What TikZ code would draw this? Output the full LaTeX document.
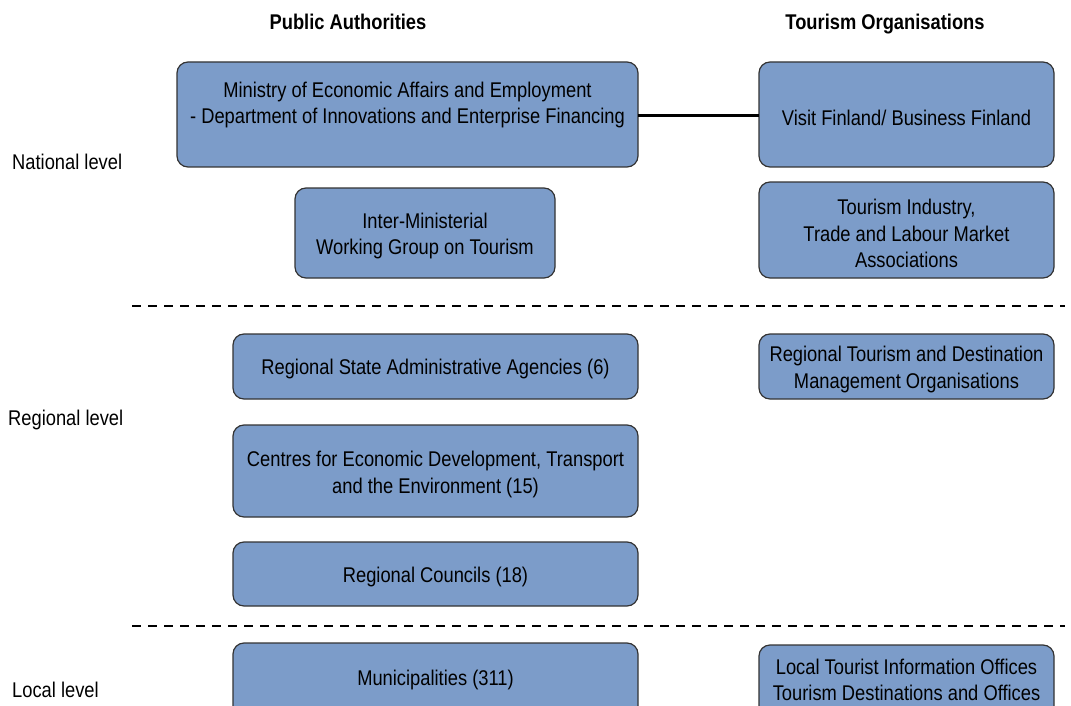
\documentclass[tikz,border=0pt]{standalone}
\usepackage{fontspec}
\setmainfont{Liberation Sans}[FakeStretch=0.86]
\begin{document}
\begin{tikzpicture}[x=1pt,y=-1pt,
  org/.style={draw=black!80,line width=1.2pt,fill=boxblue,rounded corners=11pt},
  lbl/.style={font=\fontsize{21.3}{26.5}\selectfont,align=center,text=black,inner sep=0pt,yshift=-2pt},
  hdr/.style={font=\fontsize{21.3}{24}\selectfont\bfseries,inner sep=0pt,anchor=base},
  lvl/.style={font=\fontsize{21.3}{24}\selectfont,inner sep=0pt,anchor=base west},
  sep/.style={line width=1.6pt,dash pattern=on 9pt off 7pt}]
\definecolor{boxblue}{HTML}{7C9CC9}
\useasboundingbox (0,0) rectangle (1071,706);
\clip (0,0) rectangle (1071,706);
% headers
\node[hdr] (hpa) at (348,29.5) {Public Authorities};
\node[hdr] (hto) at (885,29.5) {Tourism Organisations};
% level labels
\node[lvl] (nat) at (12,169.5) {National level};
\node[lvl] (reg) at (8,425.5) {Regional level};
\node[lvl] (loc) at (12,697.5) {Local level};
% boxes
\draw[org] (177,62) rectangle (638,167);
\node[lbl] (min) at (407.5,103) {Ministry of Economic Affairs and Employment\\- Department of Innovations and Enterprise Financing};
\coordinate (minr) at (638,116);
\draw[org] (759,62) rectangle (1054,167);
\node[lbl] (vf) at (906.5,116) {Visit Finland/ Business Finland};
\coordinate (vfl) at (759,116);
\draw[org] (295,188) rectangle (555,278);
\node[lbl] (imw) at (425,234) {Inter-Ministerial\\Working Group on Tourism};
\draw[org] (759,182) rectangle (1054,278);
\node[lbl] (tia) at (906.5,231.5) {Tourism Industry,\\Trade and Labour Market\\Associations};
\draw[org] (233,334) rectangle (638,399);
\node[lbl] (rsa) at (435.5,367) {Regional State Administrative Agencies (6)};
\draw[org] (759,334) rectangle (1054,399);
\node[lbl] (rto) at (906.5,367.5) {Regional Tourism and Destination\\Management Organisations};
\draw[org] (233,425) rectangle (638,517);
\node[lbl] (ced) at (435.5,472.5) {Centres for Economic Development, Transport\\and the Environment (15)};
\draw[org] (233,542) rectangle (638,606);
\node[lbl] (rc) at (435.5,575) {Regional Councils (18)};
\draw[org] (233,643) rectangle (638,730);
\node[lbl] (mun) at (435.5,678) {Municipalities (311)};
\draw[org] (759,645) rectangle (1054,730);
\node[lbl] (lti) at (906.5,678) {Local Tourist Information Offices\\Tourism Destinations and Offices};
% connector
\draw[line width=3pt] (minr) -- (vfl);
% separators
\coordinate (s1a) at (132,306); \coordinate (s1b) at (1065,306);
\coordinate (s2a) at (132,626); \coordinate (s2b) at (1065,626);
\draw[sep] (s1a) -- (s1b);
\draw[sep] (s2a) -- (s2b);
\end{tikzpicture}
\end{document}
